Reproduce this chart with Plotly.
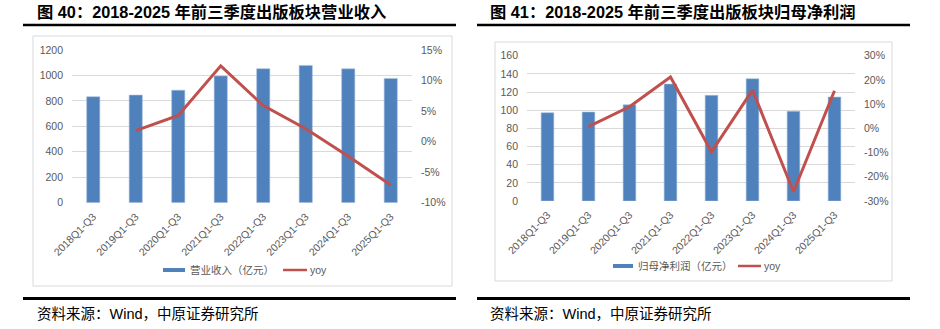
import plotly.graph_objects as go

# ---- data ----
periods = ["2018Q1-Q3", "2019Q1-Q3", "2020Q1-Q3", "2021Q1-Q3",
           "2022Q1-Q3", "2023Q1-Q3", "2024Q1-Q3", "2025Q1-Q3"]

revenue = [833, 846, 884, 996, 1053, 1079, 1052, 977]          # 亿元
revenue_yoy = [None, 1.8, 4.3, 12.4, 5.9, 2.1, -2.4, -7.1]       # %

profit = [97.2, 98.0, 106.0, 128.8, 116.4, 134.6, 98.8, 114.5]  # 亿元
profit_yoy = [None, 0.7, 8.9, 21.2, -9.7, 15.8, -26.2, 15.5]    # %

rev_ticks = [0, 200, 400, 600, 800, 1000, 1200]
rev_pct_ticks = [-10, -5, 0, 5, 10, 15]
rev_pct_text = ["-10%", "-5%", "0%", "5%", "10%", "15%"]
pro_ticks = [0, 20, 40, 60, 80, 100, 120, 140, 160]
pro_pct_ticks = [-30, -20, -10, 0, 10, 20, 30]
pro_pct_text = ["-30%", "-20%", "-10%", "0%", "10%", "20%", "30%"]

titles = ["图 40：2018-2025 年前三季度出版板块营业收入",
          "图 41：2018-2025 年前三季度出版板块归母净利润"]
bar_names = ["营业收入（亿元）", "归母净利润（亿元）"]
source = "资料来源：Wind，中原证券研究所"

# ---- styling ----
W, H = 940, 329
BLUE = "#4f81bd"
RED = "#c0504d"
GRID = "#d9d9d9"
TICK = "#595959"
FONT = "Liberation Sans, Noto Sans CJK SC, sans-serif"


def px(x):
    return x / W


def py(y):
    return 1 - y / H


fig = go.Figure()

fig.add_trace(go.Bar(x=periods, y=revenue, name=bar_names[0], marker_color=BLUE,
                     marker_line=dict(color="#a9c1e0", width=0.6), width=0.31,
                     xaxis="x", yaxis="y"))
fig.add_trace(go.Scatter(x=periods, y=revenue_yoy, name="yoy", mode="lines",
                         line=dict(color=RED, width=3), xaxis="x", yaxis="y2"))
fig.add_trace(go.Bar(x=periods, y=profit, name=bar_names[1], marker_color=BLUE,
                     marker_line=dict(color="#a9c1e0", width=0.6), width=0.31,
                     xaxis="x2", yaxis="y3"))
fig.add_trace(go.Scatter(x=periods, y=profit_yoy, name="yoy", mode="lines",
                         line=dict(color=RED, width=3), xaxis="x2", yaxis="y4"))

tickfont = dict(family=FONT, size=10.5, color=TICK)
xcommon = dict(type="category", range=[-0.5, 7.5], tickangle=-45, showgrid=False,
               showline=False, ticks="", tickfont=tickfont, fixedrange=True,
               automargin=False, ticklabelstandoff=5)
ycommon = dict(showline=False, ticks="", tickfont=tickfont, zeroline=False,
               fixedrange=True, automargin=False, ticklabelstandoff=8)

fig.update_layout(
    width=W, height=H, margin=dict(l=0, r=0, t=0, b=0),
    paper_bgcolor="white", plot_bgcolor="white", showlegend=False,
    font=dict(family=FONT),
    xaxis=dict(domain=[px(72), px(412)], anchor="y", **xcommon),
    yaxis=dict(domain=[py(202.7), py(50)], anchor="x", range=[0, 1200],
               tickvals=rev_ticks, showgrid=True, gridcolor=GRID, gridwidth=1,
               **ycommon),
    yaxis2=dict(overlaying="y", anchor="x", side="right", range=[-10, 15],
                tickvals=rev_pct_ticks, ticktext=rev_pct_text, showgrid=False,
                **ycommon),
    xaxis2=dict(domain=[px(527), px(855)], anchor="y3", **xcommon),
    yaxis3=dict(domain=[py(201), py(55.7)], anchor="x2", range=[0, 160],
                tickvals=pro_ticks, showgrid=True, gridcolor=GRID, gridwidth=1,
                **ycommon),
    yaxis4=dict(overlaying="y3", anchor="x2", side="right", range=[-30, 30],
                tickvals=pro_pct_ticks, ticktext=pro_pct_text, showgrid=False,
                **ycommon),
)

shapes = []
annotations = []

# chart frames
for x0, y0, x1, y1 in [(33, 36, 452, 286), (495, 42, 892, 281)]:
    shapes.append(dict(type="rect", xref="paper", yref="paper",
                       x0=px(x0), x1=px(x1), y0=py(y1), y1=py(y0),
                       line=dict(color=GRID, width=1), fillcolor="rgba(0,0,0,0)"))

# rules under titles and above sources
for x0, x1 in [(23, 456), (477, 910)]:
    shapes.append(dict(type="line", xref="paper", yref="paper",
                       x0=px(x0), x1=px(x1), y0=py(25), y1=py(25),
                       line=dict(color="black", width=2.5)))
    shapes.append(dict(type="line", xref="paper", yref="paper",
                       x0=px(x0), x1=px(x1), y0=py(298.5), y1=py(298.5),
                       line=dict(color="black", width=3)))

# titles and sources
for xl, txt in [(35, titles[0]), (488, titles[1])]:
    annotations.append(dict(text="<b>" + txt + "</b>", xref="paper", yref="paper",
                            x=px(xl), y=py(12), xanchor="left", yanchor="middle",
                            showarrow=False,
                            font=dict(family=FONT, size=16.3, color="black")))
for xl in [35, 488]:
    annotations.append(dict(text=source, xref="paper", yref="paper",
                            x=px(xl), y=py(314), xanchor="left", yanchor="middle",
                            showarrow=False,
                            font=dict(family=FONT, size=14.5, color="black")))

# legends
legend_items = [
    # (bar key x0, x1, bar text x, line key x0, x1, line text x, y, label)
    (163, 185, 188, 283, 307, 308, 270, bar_names[0]),
    (613, 633, 636, 738, 761, 762, 266, bar_names[1]),
]
lfont = dict(family=FONT, size=10.5, color=TICK)
for bx0, bx1, btx, lx0, lx1, ltx, y, label in legend_items:
    shapes.append(dict(type="rect", xref="paper", yref="paper",
                       x0=px(bx0), x1=px(bx1), y0=py(y + 2), y1=py(y - 2),
                       line=dict(width=0), fillcolor=BLUE))
    shapes.append(dict(type="line", xref="paper", yref="paper",
                       x0=px(lx0), x1=px(lx1), y0=py(y), y1=py(y),
                       line=dict(color=RED, width=2.5)))
    annotations.append(dict(text=label, xref="paper", yref="paper", x=px(btx),
                            y=py(y), xanchor="left", yanchor="middle",
                            showarrow=False, font=lfont))
    annotations.append(dict(text="yoy", xref="paper", yref="paper", x=px(ltx),
                            y=py(y), xanchor="left", yanchor="middle",
                            showarrow=False, font=lfont))

fig.update_layout(shapes=shapes, annotations=annotations)

fig.write_html("out.html")
